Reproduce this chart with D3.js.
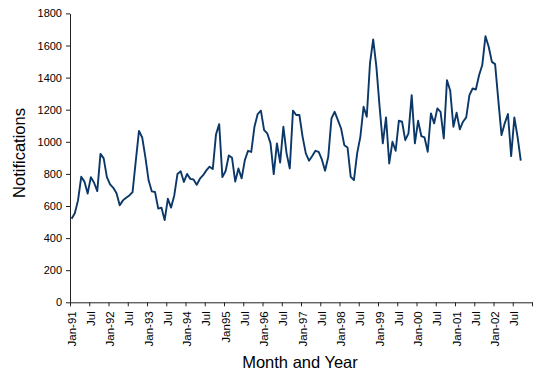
<!DOCTYPE html>
<html>
<head>
<meta charset="utf-8">
<script src="https://cdn.jsdelivr.net/npm/d3@7"></script>
<style>
  body { margin: 0; background: #fff; }
  svg { display: block; font-family: Arial, "Liberation Sans", sans-serif; }
</style>
</head>
<body>
<svg id="plot" width="543" height="378"></svg>
<script>
// monthly notifications, Jan-91 .. Sep-02
let notifications = [
  520, 555, 635, 782, 752, 678, 780, 745, 693, 925, 897, 780,
  735, 713, 680, 604, 635, 652, 666, 687, 880, 1068, 1027, 903,
  760, 691, 687, 584, 590, 512, 645, 590, 666, 800, 816, 750,
  800, 769, 765, 732, 770, 792, 822, 845, 830, 1045, 1110, 780,
  818, 915, 900, 752, 834, 772, 886, 944, 937, 1094, 1173, 1194,
  1073, 1052, 990, 799, 990, 870, 1094, 928, 834, 1194, 1167, 1167,
  1031, 928, 882, 911, 944, 937, 890, 820, 907, 1146, 1187, 1135,
  1083, 979, 965, 782, 761, 928, 1031, 1218, 1156, 1488, 1638, 1467,
  1218, 990, 1152, 865, 1000, 944, 1131, 1125, 1010, 1052, 1291, 990,
  1131, 1036, 1027, 938, 1177, 1115, 1208, 1187, 1021, 1384, 1320, 1094,
  1181, 1077, 1125, 1152, 1291, 1332, 1326, 1415, 1478, 1658, 1592, 1498,
  1484, 1260, 1042, 1115, 1173, 911, 1152, 1031, 882
];

// x axis runs over 144 monthly categories (Jan-91 .. Dec-02), labelled every 6
let tickLabels = [
  "Jan-91", "Jul", "Jan-92", "Jul", "Jan-93", "Jul", "Jan-94", "Jul",
  "Jan95", "Jul", "Jan-96", "Jul", "Jan-97", "Jul", "Jan-98", "Jul",
  "Jan-99", "Jul", "Jan-00", "Jul", "Jan-01", "Jul", "Jan-02", "Jul"
];
let nCategories = 144;
let yTicks = [0, 200, 400, 600, 800, 1000, 1200, 1400, 1600, 1800];

let margin = {top: 13.4, right: 11, bottom: 75.7, left: 70};
let width = 543, height = 378;

let svg = d3.select("#plot");

let x = d3.scaleLinear()
    .domain([0, nCategories])
    .range([margin.left, width - margin.right]);

let y = d3.scaleLinear()
    .domain([0, 1800])
    .range([height - margin.bottom, margin.top]);

let xAxis = g => g
    .attr("transform", `translate(0, ${height - margin.bottom})`)
    .call(d3.axisBottom(x)
            .tickValues(d3.range(0, nCategories + 1, 6))
            .tickSize(4)
            .tickSizeOuter(0)
            .tickFormat(""))
    .call(g => g.selectAll(".domain").attr("stroke", "#222"))
    .call(g => g.selectAll(".tick line").attr("stroke", "#222"));

let yAxis = g => g
    .attr("transform", `translate(${margin.left}, 0)`)
    .call(d3.axisLeft(y)
            .tickValues(yTicks)
            .tickFormat(d3.format("d"))
            .tickSize(4)
            .tickSizeOuter(0)
            .tickPadding(4))
    .call(g => g.selectAll(".domain").attr("stroke", "#222"))
    .call(g => g.selectAll(".tick line").attr("stroke", "#222"))
    .call(g => g.selectAll(".tick text")
            .attr("fill", "#000")
            .style("font-size", "11px")
            .style("font-family", "Arial, 'Liberation Sans', sans-serif"));

svg.append("g").call(xAxis);
svg.append("g").call(yAxis);

// rotated month labels, centred in their category
svg.append("g")
    .selectAll("text")
    .data(tickLabels)
    .join("text")
      .attr("transform", (d, i) => `translate(${x(i * 6 + 0.5)}, ${height - margin.bottom + 9}) rotate(-90)`)
      .attr("text-anchor", "end")
      .attr("dy", "0.35em")
      .style("font-size", "11.5px")
      .text(d => d);

let line = d3.line()
    .x((d, i) => x(i + 0.5))
    .y(d => y(d));

svg.append("path")
    .datum(notifications)
    .attr("fill", "none")
    .attr("stroke", "#0b3868")
    .attr("stroke-width", 1.9)
    .attr("stroke-linejoin", "round")
    .attr("d", line);

svg.append("text")
    .attr("x", 300)
    .attr("y", 368)
    .attr("text-anchor", "middle")
    .style("font-size", "16.5px")
    .text("Month and Year");

svg.append("text")
    .attr("transform", "translate(25, 153) rotate(-90)")
    .attr("text-anchor", "middle")
    .style("font-size", "16.5px")
    .text("Notifications");
</script>
</body>
</html>
